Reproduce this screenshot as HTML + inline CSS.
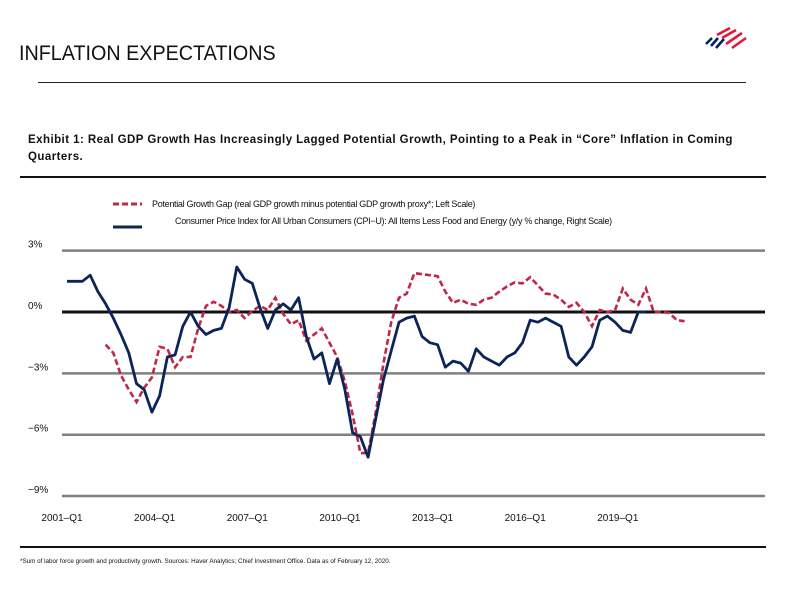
<!DOCTYPE html>
<html><head><meta charset="utf-8"><style>
body{margin:0;width:792px;height:612px;background:#fff;position:relative;overflow:hidden;font-family:"Liberation Sans Narrow","Liberation Sans",sans-serif;}
.abs{position:absolute;white-space:nowrap;}
</style></head><body>
<div class="abs" style="left:19px;top:42px;font-size:21px;color:#111;transform:scaleX(0.94);transform-origin:0 0;">INFLATION EXPECTATIONS</div>
<svg class="abs" style="left:700px;top:22px" width="50" height="30">
<g stroke-width="2.6" stroke-linecap="butt">
<line x1="6" y1="22" x2="12" y2="16" stroke="#012169"/><line x1="11" y1="24" x2="18" y2="16" stroke="#012169"/><line x1="16" y1="26" x2="24" y2="17" stroke="#012169"/>
<line x1="17" y1="13" x2="30" y2="6" stroke="#e31837"/><line x1="22" y1="16" x2="36" y2="8" stroke="#e31837"/><line x1="26" y1="22" x2="42" y2="11" stroke="#e31837"/><line x1="32" y1="26" x2="46" y2="16" stroke="#e31837"/>
</g></svg>
<div class="abs" style="left:38px;top:82px;width:708px;height:1px;background:#222"></div>
<div class="abs" style="left:28px;top:132px;font-size:11.5px;font-weight:bold;letter-spacing:0.45px;line-height:17px;color:#111">Exhibit 1: Real GDP Growth Has Increasingly Lagged Potential Growth, Pointing to a Peak in “Core” Inflation in Coming<br>Quarters.</div>
<div class="abs" style="left:20px;top:176px;width:746px;height:2px;background:#111"></div>
<svg class="abs" style="left:0;top:0" width="792" height="612" id="chart">
<g>
<line x1="113" y1="204" x2="142" y2="204" stroke="#c0284a" stroke-width="3" stroke-dasharray="6,3"/>
<text x="152" y="207" font-size="9" letter-spacing="-0.3" fill="#111" font-family="Liberation Sans Narrow,Liberation Sans,sans-serif">Potential Growth Gap (real GDP growth minus potential GDP growth proxy*; Left Scale)</text>
<line x1="113" y1="227" x2="142" y2="227" stroke="#0c2557" stroke-width="3"/>
<text x="175" y="224" font-size="9" letter-spacing="-0.3" fill="#111" font-family="Liberation Sans Narrow,Liberation Sans,sans-serif">Consumer Price Index for All Urban Consumers (CPI−U): All Items Less Food and Energy (y/y % change, Right Scale)</text>
</g>
<g id="grid"></g><g id="series"></g><g id="labels"></g>
</svg>
<div class="abs" style="left:20px;top:546px;width:746px;height:2px;background:#111"></div>
<div class="abs" style="left:20px;top:558px;font-size:6.3px;letter-spacing:0px;color:#111">*Sum of labor force growth and productivity growth. Sources: Haver Analytics; Chief Investment Office. Data as of February 12, 2020.</div>
<script>
const yTicks=[3,0,-3,-6,-9];
const yTickLabels=["3%","0%","−3%","−6%","−9%"];
const xTickIdx=[0,12,24,36,48,60,72];
const xTickLabels=["2001–Q1","2004–Q1","2007–Q1","2010–Q1","2013–Q1","2016–Q1","2019–Q1"];
const cpiValues=[1.5,1.5,1.5,1.8,1.0,0.4,-0.3,-1.1,-2.0,-3.5,-3.8,-4.9,-4.1,-2.2,-2.1,-0.7,0,-0.7,-1.1,-0.9,-0.8,0.2,2.2,1.6,1.4,0.2,-0.8,0.1,0.4,0.1,0.7,-1.2,-2.3,-2.0,-3.5,-2.3,-3.8,-5.9,-6.1,-7.1,-5.2,-3.3,-1.9,-0.5,-0.3,-0.2,-1.2,-1.5,-1.6,-2.7,-2.4,-2.5,-2.9,-1.8,-2.2,-2.4,-2.6,-2.2,-2.0,-1.5,-0.4,-0.5,-0.3,-0.5,-0.7,-2.2,-2.6,-2.2,-1.7,-0.4,-0.2,-0.5,-0.9,-1.0,0,0];
const gapStart=5;
const gapValues=[-1.6,-2.0,-3.1,-3.8,-4.4,-3.7,-3.2,-1.7,-1.8,-2.7,-2.2,-2.2,-0.8,0.3,0.5,0.3,0,0.1,-0.3,0.05,0.3,0.1,0.7,-0.1,-0.6,-0.4,-1.4,-1.1,-0.8,-1.5,-2.2,-3.4,-5.0,-6.9,-6.9,-4.9,-2.5,-0.5,0.7,0.9,1.9,1.85,1.8,1.75,1.0,0.45,0.6,0.4,0.35,0.6,0.7,1.0,1.25,1.45,1.4,1.7,1.3,0.9,0.85,0.6,0.25,0.45,0,-0.7,0.1,0,0.1,1.15,0.6,0.35,1.15,0,0,-0.05,-0.4,-0.45];
const NS="http://www.w3.org/2000/svg";
const x=i=>67+i*7.72;
const y=v=>312-v*20.45;
function mk(tag,attrs,parent){const e=document.createElementNS(NS,tag);for(const k in attrs)e.setAttribute(k,attrs[k]);parent.appendChild(e);return e;}
const grid=document.getElementById('grid'),labels=document.getElementById('labels'),series=document.getElementById('series');
yTicks.forEach((t,k)=>{
  const l=mk('line',{x1:62,x2:765,y1:y(t),y2:y(t),stroke:t===0?'#111':'#808080','stroke-width':t===0?3:2.5},grid);
  
  
  const tx=mk('text',{x:28,y:y(t)-3,'font-size':10,fill:'#111','font-family':'Liberation Sans Narrow,Liberation Sans,sans-serif'},labels);
  tx.textContent=yTickLabels[k];
  
  
});
xTickIdx.forEach((i,k)=>{
  const tx=mk('text',{x:x(i)-5,y:521,'font-size':10,'text-anchor':'middle',fill:'#111','font-family':'Liberation Sans Narrow,Liberation Sans,sans-serif'},labels);
  tx.textContent=xTickLabels[k];
  
  
});
const gp=gapValues.map((v,i)=>x(i+gapStart).toFixed(1)+','+y(v).toFixed(1)).join(' ');
const g=mk('polyline',{points:gp,fill:'none',stroke:'#c0284a','stroke-width':2.6,'stroke-dasharray':'6,3'},series);


const cp=cpiValues.map((v,i)=>x(i).toFixed(1)+','+y(v).toFixed(1)).join(' ');
const c=mk('polyline',{points:cp,fill:'none',stroke:'#0c2557','stroke-width':2.8,'stroke-linejoin':'round'},series);


</script>
</body></html>
